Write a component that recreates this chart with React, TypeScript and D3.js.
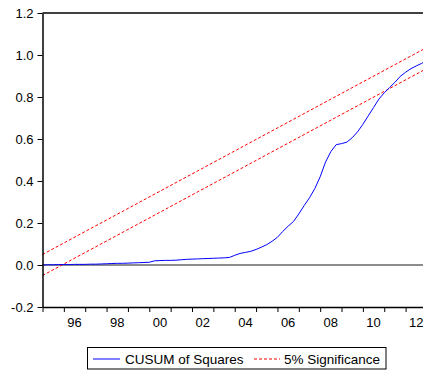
import { useRef, useEffect } from "react";
import * as d3 from "d3";

const W = 423;
const H = 371;
const PAD = { top: 13, left: 42.5, bottom: 307, right: 432.3 };

// quarterly observations, 1995Q1 .. 2013Q2
const startYear = 1995;
const cusumSq = [
  0.0, 0.001, 0.001, 0.002, 0.002, 0.002, 0.003, 0.003, 0.003, 0.004, 0.004, 0.005,
  0.006, 0.007, 0.008, 0.008, 0.009, 0.01, 0.011, 0.012, 0.013, 0.02, 0.021, 0.022,
  0.022, 0.023, 0.025, 0.027, 0.028, 0.029, 0.03, 0.031, 0.032, 0.033, 0.034, 0.036,
  0.046, 0.055, 0.06, 0.065, 0.074, 0.085, 0.097, 0.113, 0.132, 0.16, 0.185, 0.207,
  0.243, 0.283, 0.32, 0.364, 0.42, 0.49, 0.54, 0.573, 0.578, 0.585, 0.606, 0.634,
  0.67, 0.71, 0.75, 0.79, 0.82, 0.845, 0.87, 0.898, 0.918, 0.935, 0.948, 0.96,
  0.975, 1.0,
];

// 5% significance bounds (straight lines, start and end values)
const boundDates = [1995, 2013.25];
const upperBound = [0.05, 1.05];
const lowerBound = [-0.05, 0.95];

const yTicks = [-0.2, 0, 0.2, 0.4, 0.6, 0.8, 1.0, 1.2];
const yearTicks = d3.range(1995, 2014);
const yearLabels = [1996, 1998, 2000, 2002, 2004, 2006, 2008, 2010, 2012];

const FONT = "Arial, 'Liberation Sans', sans-serif";

export default function App() {
  const svgRef = useRef<SVGSVGElement>(null);

  useEffect(() => {
    const svg = d3.select(svgRef.current);
    if (!svg.node()) return;
    svg.selectAll("*").remove();

    const x = d3.scaleLinear().domain([1995, 2013.25]).range([PAD.left, PAD.right]);
    const y = d3.scaleLinear().domain([-0.2, 1.2]).range([PAD.bottom, PAD.top]);

    svg.append("rect").attr("width", W).attr("height", H).attr("fill", "#fff");

    // zero line
    svg
      .append("line")
      .attr("x1", PAD.left)
      .attr("x2", W)
      .attr("y1", y(0))
      .attr("y2", y(0))
      .attr("stroke", "#666")
      .attr("stroke-width", 1.5);

    // bounds
    const boundLine = d3
      .line<number>()
      .x((_d, i) => x(boundDates[i]))
      .y((d) => y(d));
    [upperBound, lowerBound].forEach((b) => {
      svg
        .append("path")
        .attr("d", boundLine(b))
        .attr("fill", "none")
        .attr("stroke", "#ff0000")
        .attr("stroke-width", 1)
        .attr("stroke-dasharray", "3,2");
    });

    // cusum of squares
    const line = d3
      .line<number>()
      .x((_d, i) => x(startYear + i / 4))
      .y((d) => y(d));
    svg
      .append("path")
      .attr("d", line(cusumSq))
      .attr("fill", "none")
      .attr("stroke", "#0000ff")
      .attr("stroke-width", 1);

    // top frame
    svg
      .append("line")
      .attr("x1", PAD.left)
      .attr("x2", W)
      .attr("y1", PAD.top)
      .attr("y2", PAD.top)
      .attr("stroke", "#000")
      .attr("stroke-width", 1.5);

    // y axis
    const yAxis = svg
      .append("g")
      .attr("transform", `translate(${PAD.left},0)`)
      .call(
        d3
          .axisLeft(y)
          .tickValues(yTicks)
          .tickFormat((d) => (d as number).toFixed(1))
          .tickSize(5)
          .tickSizeOuter(0)
          .tickPadding(4),
      );
    yAxis.selectAll("text").style("font-family", FONT).style("font-size", "13px").style("fill", "#000");
    yAxis.select(".domain").attr("stroke-width", 1.5);

    // x axis
    const xAxis = svg
      .append("g")
      .attr("transform", `translate(0,${PAD.bottom})`)
      .call(
        d3
          .axisBottom(x)
          .tickValues(yearTicks)
          .tickFormat(() => "")
          .tickSize(5)
          .tickSizeOuter(0),
      );
    xAxis.select(".domain").attr("stroke-width", 1.5);

    svg
      .selectAll(".year-label")
      .data(yearLabels)
      .enter()
      .append("text")
      .attr("x", (d) => x(d + 0.5))
      .attr("y", PAD.bottom + 20)
      .attr("text-anchor", "middle")
      .style("font-family", FONT)
      .style("font-size", "13px")
      .text((d) => String(d % 100).padStart(2, "0"));

    // legend
    const lg = svg.append("g");
    lg.append("rect")
      .attr("x", 87.5)
      .attr("y", 347.5)
      .attr("width", 298.5)
      .attr("height", 21.5)
      .attr("fill", "#fff")
      .attr("stroke", "#000");
    lg.append("line")
      .attr("x1", 93)
      .attr("x2", 120)
      .attr("y1", 359)
      .attr("y2", 359)
      .attr("stroke", "#0000ff");
    lg.append("text")
      .attr("x", 125)
      .attr("y", 363.5)
      .style("font-family", FONT)
      .style("font-size", "13.5px")
      .text("CUSUM of Squares");
    lg.append("line")
      .attr("x1", 254)
      .attr("x2", 280)
      .attr("y1", 359)
      .attr("y2", 359)
      .attr("stroke", "#ff0000")
      .attr("stroke-dasharray", "3,2");
    lg.append("text")
      .attr("x", 284)
      .attr("y", 363.5)
      .style("font-family", FONT)
      .style("font-size", "13.5px")
      .text("5% Significance");
  }, []);

  return (
    <div style={{ position: "absolute", left: 0, top: 0 }}>
      <svg ref={svgRef} width={W} height={H} style={{ display: "block" }} />
    </div>
  );
}
